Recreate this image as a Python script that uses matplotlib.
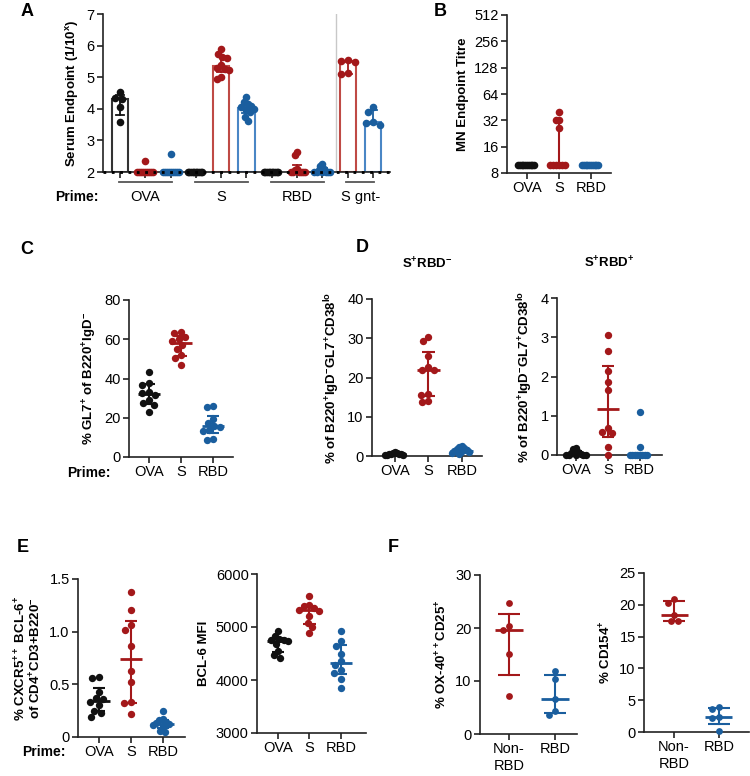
import numpy as np
import matplotlib.pyplot as plt
from matplotlib.transforms import blended_transform_factory

plt.rcParams['font.family'] = ['Liberation Sans', 'DejaVu Sans']
plt.rcParams['mathtext.fontset'] = 'custom'
plt.rcParams['mathtext.rm'] = 'Liberation Sans'
plt.rcParams['mathtext.bf'] = 'Liberation Sans:bold'
plt.rcParams['mathtext.default'] = 'bf'
plt.rcParams['axes.linewidth'] = 1.2
plt.rcParams['axes.edgecolor'] = '#222222'

BLK = '#111111'
RED = '#A3181A'
BLUE = '#1A5E9E'
RED_EDGE = '#BF4A45'
BLUE_EDGE = '#4A86C5'

# ---- data ----
# A: serum endpoint (log10), groups = prime, bars per boost
a_groups = ['OVA', 'S', 'RBD', 'S gnt-']
a_ova_black = [4.52, 4.35, 4.30, 4.05, 3.58]
a_ova_red = [2.35, 2, 2, 2, 2, 2, 2, 2, 2, 2]
a_ova_blue = [2.58, 2, 2, 2, 2, 2, 2, 2, 2, 2]
a_s_black = [2, 2, 2, 2, 2, 2, 2, 2, 2, 2]
a_s_red = [5.88, 5.72, 5.65, 5.60, 5.38, 5.30, 5.25, 5.22, 5.00, 4.93]
a_s_blue = [4.37, 4.20, 4.15, 4.10, 4.05, 4.00, 3.95, 3.90, 3.75, 3.62]
a_rbd_black = [2, 2, 2, 2, 2, 2, 2, 2, 2, 2]
a_rbd_red = [2.62, 2.55, 2.10, 2.05, 2, 2, 2, 2, 2, 2]
a_rbd_blue = [2.25, 2.20, 2.10, 2.05, 2, 2, 2, 2, 2, 2]
a_gnt_red = [5.53, 5.50, 5.48, 5.12, 5.10]
a_gnt_blue = [4.05, 3.90, 3.58, 3.55, 3.50]

# B: MN endpoint titre
b_cats = ['OVA', 'S', 'RBD']
b_ova = [10] * 10
b_s = [40, 32, 32, 26, 10, 10, 10, 10, 10, 10]
b_rbd = [10] * 10

# C: % GL7+ of B220+IgD-
c_cats = ['OVA', 'S', 'RBD']
c_ova = [43.4, 37.9, 36.9, 33.0, 32.5, 31.5, 28.9, 27.5, 26.4, 22.8]
c_s = [63.8, 63.0, 61.0, 60.0, 59.0, 57.0, 55.0, 52.0, 50.5, 47.0]
c_rbd = [26.0, 25.5, 19.5, 17.5, 16.0, 15.5, 14.0, 13.0, 9.0, 8.5]

# D: S+RBD- and S+RBD+
d1_ova = [1.0, 0.8, 0.7, 0.6, 0.5, 0.5, 0.4, 0.3, 0.3, 0.2]
d1_s = [30.3, 29.2, 25.6, 22.8, 21.9, 21.8, 15.9, 15.6, 14.1, 13.7]
d1_rbd = [2.6, 2.4, 2.0, 1.8, 1.5, 1.2, 1.0, 0.9, 0.8, 0.4]
d2_ova = [0.18, 0.15, 0.08, 0.05, 0.02, 0, 0, 0, 0, 0]
d2_s = [3.07, 2.66, 2.14, 1.86, 1.66, 0.69, 0.58, 0.55, 0.20, 0.0]
d2_rbd = [1.10, 0.20, 0, 0, 0, 0, 0, 0, 0, 0]

# E: Tfh and BCL-6 MFI
e1_ova = [0.57, 0.56, 0.43, 0.37, 0.36, 0.33, 0.30, 0.25, 0.23, 0.19]
e1_s = [1.38, 1.21, 1.06, 1.02, 0.86, 0.63, 0.52, 0.33, 0.32, 0.22]
e1_rbd = [0.25, 0.17, 0.16, 0.14, 0.13, 0.12, 0.11, 0.10, 0.06, 0.05]
e2_ova = [4920, 4830, 4780, 4760, 4760, 4730, 4670, 4540, 4480, 4420]
e2_s = [5580, 5420, 5390, 5360, 5330, 5300, 5200, 5075, 5000, 4890]
e2_rbd = [4920, 4730, 4640, 4500, 4360, 4290, 4180, 4140, 4010, 3840]

# F: OX-40/CD25 and CD154
f_cats = ['Non-\nRBD', 'RBD']
f1_non = [24.8, 20.3, 19.6, 15.1, 7.1]
f1_rbd = [11.8, 10.4, 6.6, 4.3, 3.6]
f2_non = [20.9, 20.3, 18.4, 17.4, 17.4]
f2_rbd = [4.0, 3.6, 2.4, 2.2, 0.2]

W, H = 750, 776
fig = plt.figure(figsize=(W / 100, H / 100), dpi=100)


def add_ax(x0, x1, ytop, ybot):
    ax = fig.add_axes([x0 / W, 1 - ybot / H, (x1 - x0) / W, (ybot - ytop) / H])
    ax.spines['top'].set_visible(False)
    ax.spines['right'].set_visible(False)
    ax.tick_params(length=4, width=1.2, labelsize=10.5, pad=2, color='#222222')
    return ax


def swarm_x(ax, xc, vals, d, w):
    pts = ax.transData.transform(np.column_stack([np.full(len(vals), xc), vals]))
    x0 = pts[0, 0]
    placed = []
    offs = []
    for y in pts[:, 1]:
        cands = [0.0]
        for ox, oy in placed:
            dy = y - oy
            if abs(dy) < d:
                dx = np.sqrt(d * d - dy * dy)
                cands += [ox - dx, ox + dx]
        cands.sort(key=abs)
        for c in cands:
            if all((c - ox) ** 2 + (y - oy) ** 2 >= d * d - 1e-6 for ox, oy in placed):
                break
        placed.append((c, y))
        offs.append(c)
    offs = np.array(offs)
    m = np.abs(offs).max()
    if m > w:
        offs = offs * w / m
    back = ax.transData.inverted().transform(np.column_stack([x0 + offs, pts[:, 1]]))
    return back[:, 0]


def dots(ax, x, vals, col, d=7, w=10, s=28):
    xs = swarm_x(ax, x, vals, d, w)
    ax.scatter(xs, vals, s=s, color=col, zorder=3, clip_on=False, linewidths=0)


def quart(vals):
    return np.percentile(vals, [25, 50, 75], method='weibull')


def medbar(ax, x, vals, col, mw=0.34, cw=0.2, lw=1.5):
    q1, m, q3 = quart(vals)
    ax.plot([x - mw, x + mw], [m, m], color=col, lw=2, zorder=4, solid_capstyle='butt')
    ax.plot([x, x], [q1, q3], color=col, lw=lw, zorder=4)
    for v in (q1, q3):
        ax.plot([x - cw, x + cw], [v, v], color=col, lw=lw, zorder=4, solid_capstyle='butt')


def letter(x, y, s):
    fig.text(x / W, 1 - y / H, s, fontsize=13, fontweight='bold', ha='center', va='center')


# ---- A ----
ax = add_ax(103, 390, 14, 172)
ax.set_xlim(-0.67, 10.67)
ax.set_ylim(2, 7)
a_vals = [a_ova_black, a_ova_red, a_ova_blue, a_s_black, a_s_red, a_s_blue,
          a_rbd_black, a_rbd_red, a_rbd_blue, a_gnt_red, a_gnt_blue]
a_cols = [BLK, RED, BLUE] * 3 + [RED, BLUE]
a_edges = ['#333333', RED_EDGE, BLUE_EDGE] * 3 + [RED_EDGE, BLUE_EDGE]
a_pos = np.arange(len(a_vals))
for i, (v, c, e) in enumerate(zip(a_vals, a_cols, a_edges)):
    q1, m, q3 = quart(v)
    ax.bar(i, m - 2, bottom=2, width=0.64, facecolor='white', edgecolor=e, lw=1.5, zorder=1)
    if q3 > q1:
        ax.plot([i, i], [q1, q3], color=c, lw=1.3, zorder=2)
        for yy in (q1, q3):
            ax.plot([i - 0.17, i + 0.17], [yy, yy], color=c, lw=1.3, zorder=2)
    dots(ax, i, v, c, d=7, w=8, s=30)
ax.axhline(2, color='k', lw=2, ls=(0, (1, 2)), zorder=5, clip_on=False)
ax.axvline(8.52, color='#c8c8c8', lw=1, zorder=0)
ax.set_xticks(a_pos)
ax.set_xticklabels([])
ax.set_yticks(range(2, 8))
ax.set_ylabel('Serum Endpoint (1/10$^{x}$)', fontsize=9.5, fontweight='bold', labelpad=4)
tr = blended_transform_factory(ax.transData, ax.transAxes)
a_spans = [(0, 2), (3, 5), (6, 8), (9, 10)]
for (s0, s1), g in zip(a_spans, a_groups):
    ax.plot([s0 - 0.05, s1 + 0.05], [-0.065, -0.065], transform=tr, color='#555555', lw=1.3, clip_on=False)
    ax.text((s0 + s1) / 2, -0.16, g, transform=tr, ha='center', va='center', fontsize=10.5)
fig.text(77 / W, 1 - 197 / H, 'Prime:', fontsize=10, fontweight='bold', ha='center', va='center')
letter(27, 12, 'A')

# ---- B ----
ax = add_ax(507, 611, 15, 173)
ax.set_yscale('log', base=2)
ax.set_ylim(8, 512)
ax.set_xlim(-0.62, 2.62)
b_ticks = [8, 16, 32, 64, 128, 256, 512]
ax.set_yticks(b_ticks, labels=[str(t) for t in b_ticks])
ax.minorticks_off()
ax.set_xticks(range(3), labels=b_cats)
for i, (v, c) in enumerate(zip([b_ova, b_s, b_rbd], [BLK, RED, BLUE])):
    dots(ax, i, v, c, d=7, w=9, s=30)
    medbar(ax, i, v, c, mw=0.0, cw=0.0)
ax.set_ylabel('MN Endpoint Titre', fontsize=9.5, fontweight='bold', labelpad=4)
letter(440, 12, 'B')

# ---- C ----
ax = add_ax(129, 233, 300, 457)
ax.set_xlim(-0.625, 2.625)
ax.set_ylim(0, 80)
ax.set_yticks([0, 20, 40, 60, 80])
ax.set_xticks(range(3), labels=c_cats)
for i, (v, c) in enumerate(zip([c_ova, c_s, c_rbd], [BLK, RED, BLUE])):
    dots(ax, i, v, c, d=7, w=10)
    medbar(ax, i, v, c)
ax.set_ylabel('% GL7$^{+}$ of B220$^{+}$IgD$^{-}$', fontsize=9.5, fontweight='bold', labelpad=4)
fig.text(89 / W, 1 - 473 / H, 'Prime:', fontsize=10, fontweight='bold', ha='center', va='center')
letter(27, 250, 'C')

# ---- D ----
d_label = '% of B220$^{+}$IgD$^{-}$GL7$^{+}$CD38$^{lo}$'
ax = add_ax(372, 482, 299, 456)
ax.set_xlim(-0.68, 2.6)
ax.set_ylim(0, 40)
ax.set_yticks([0, 10, 20, 30, 40])
ax.set_xticks(range(3), labels=c_cats)
for i, (v, c) in enumerate(zip([d1_ova, d1_s, d1_rbd], [BLK, RED, BLUE])):
    dots(ax, i, v, c, d=7, w=10)
    medbar(ax, i, v, c)
ax.set_ylabel(d_label, fontsize=9.5, fontweight='bold', labelpad=4)
ax.set_title('S$^{+}$RBD$^{-}$', fontsize=9.5, fontweight='bold', pad=22)

ax = add_ax(557, 662, 298, 455)
ax.set_xlim(-0.6, 2.7)
ax.set_ylim(0, 4)
ax.set_yticks([0, 1, 2, 3, 4])
ax.set_xticks(range(3), labels=c_cats)
for i, (v, c) in enumerate(zip([d2_ova, d2_s, d2_rbd], [BLK, RED, BLUE])):
    dots(ax, i, v, c, d=7, w=10)
    medbar(ax, i, v, c)
ax.set_ylabel(d_label, fontsize=9.5, fontweight='bold', labelpad=4)
ax.set_title('S$^{+}$RBD$^{+}$', fontsize=9.5, fontweight='bold', pad=22)
letter(362, 248, 'D')

# ---- E ----
ax = add_ax(78, 185, 579, 737)
ax.set_xlim(-0.66, 2.69)
ax.set_ylim(0, 1.5)
ax.set_yticks([0, 0.5, 1.0, 1.5], labels=['0', '0.5', '1.0', '1.5'])
ax.set_xticks(range(3), labels=c_cats)
for i, (v, c) in enumerate(zip([e1_ova, e1_s, e1_rbd], [BLK, RED, BLUE])):
    dots(ax, i, v, c, d=7, w=10)
    medbar(ax, i, v, c)
ax.set_ylabel('% CXCR5$^{++}$ BCL-6$^{+}$\nof CD4$^{+}$CD3+B220$^{-}$', fontsize=9.5,
              fontweight='bold', labelpad=4, linespacing=1.0)
fig.text(44 / W, 1 - 752 / H, 'Prime:', fontsize=10, fontweight='bold', ha='center', va='center')

ax = add_ax(257, 366, 574, 733)
ax.set_xlim(-0.67, 2.8)
ax.set_ylim(3000, 6000)
ax.set_yticks([3000, 4000, 5000, 6000])
ax.set_xticks(range(3), labels=c_cats)
for i, (v, c) in enumerate(zip([e2_ova, e2_s, e2_rbd], [BLK, RED, BLUE])):
    dots(ax, i, v, c, d=7, w=10)
    medbar(ax, i, v, c)
ax.set_ylabel('BCL-6 MFI', fontsize=9.5, fontweight='bold', labelpad=4)
letter(23, 548, 'E')

# ---- F ----
ax = add_ax(480, 577, 575, 734)
ax.set_xlim(-0.63, 1.48)
ax.set_ylim(0, 30)
ax.set_yticks([0, 10, 20, 30])
ax.set_xticks(range(2), labels=f_cats)
for i, (v, c) in enumerate(zip([f1_non, f1_rbd], [RED, BLUE])):
    dots(ax, i, v, c, d=7, w=10, s=24)
    medbar(ax, i, v, c, mw=0.3, cw=0.24)
ax.set_ylabel('% OX-40$^{++}$CD25$^{+}$', fontsize=9.5, fontweight='bold', labelpad=4)

ax = add_ax(644, 749, 573, 732)
ax.set_xlim(-0.67, 1.67)
ax.set_ylim(0, 25)
ax.set_yticks([0, 5, 10, 15, 20, 25])
ax.set_xticks(range(2), labels=f_cats)
for i, (v, c) in enumerate(zip([f2_non, f2_rbd], [RED, BLUE])):
    dots(ax, i, v, c, d=7, w=10, s=24)
    medbar(ax, i, v, c, mw=0.3, cw=0.24)
ax.set_ylabel('% CD154$^{+}$', fontsize=9.5, fontweight='bold', labelpad=4)
letter(393, 548, 'F')

fig.savefig('out.png', dpi=100)
